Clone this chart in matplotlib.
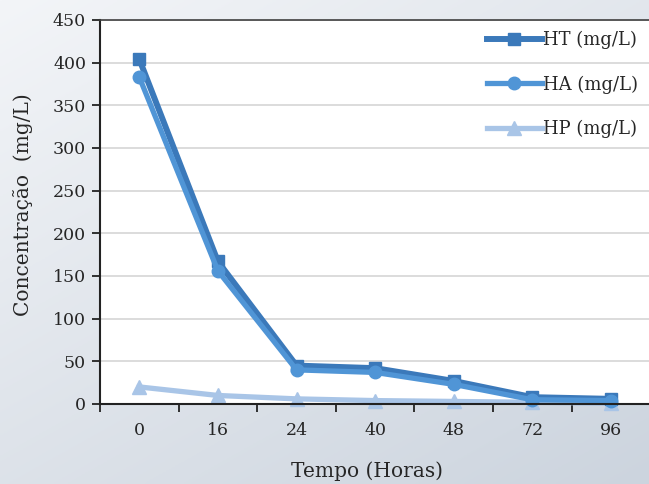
import numpy as np
import matplotlib
matplotlib.use("Agg")
import matplotlib.pyplot as plt

categories = ["0", "16", "24", "40", "48", "72", "96"]
ht = [404, 167, 45, 42, 27, 8, 6]
ha = [383, 156, 40, 37, 23, 5, 4]
hp = [20, 10, 6, 4, 3, 2, 1]
yticks = [0, 50, 100, 150, 200, 250, 300, 350, 400, 450]

plt.rcParams['font.family'] = ['DejaVu Serif']
FS = 12.5
LFS = 14.5

fig = plt.figure(figsize=(6.49, 4.84), dpi=100)

# background gradient
bg = fig.add_axes([0, 0, 1, 1], zorder=-10)
yy, xx = np.mgrid[0:1:200j, 0:1:200j]
t = np.clip((xx * 0.6 + yy * 0.8) / 1.4, 0, 1)
c0 = np.array([0xf3, 0xf5, 0xf8]) / 255
c1 = np.array([0xcc, 0xd4, 0xde]) / 255
img = c0[None, None, :] * (1 - t[..., None]) + c1[None, None, :] * t[..., None]
bg.imshow(img, aspect='auto', extent=[0, 1, 0, 1], origin='upper')
bg.axis('off')

ax = fig.add_axes([100 / 649, 1 - 404 / 484, 1 - 100 / 649 + 0.002, (404 - 20) / 484])
ax.set_facecolor('white')
x = np.arange(len(categories))

ax.plot(x, hp, color='#a9c5e7', lw=3.8, marker='^', ms=9.5, label='HP (mg/L)', zorder=3, clip_on=False)
ax.plot(x, ht, color='#3b79ba', lw=4.3, marker='s', ms=8.5, label='HT (mg/L)', zorder=4, clip_on=False)
ax.plot(x, ha, color='#5095d6', lw=3.8, marker='o', ms=9, label='HA (mg/L)', zorder=5, clip_on=False)

ax.set_xlim(-0.5, len(categories) - 0.5)
ax.set_ylim(0, 450)
ax.set_yticks(yticks)
ax.set_yticklabels([str(v) for v in yticks], fontsize=FS, color='#262626')
ax.set_xticks(x)
ax.set_xticklabels(categories, fontsize=FS, color='#262626')
ax.set_xticks(np.arange(-0.5, len(categories) + 0.5, 1), minor=True)
ax.tick_params(axis='x', which='major', length=0, pad=13)
ax.tick_params(axis='x', which='minor', length=6, width=1.3, direction='out', color='#222222')
ax.tick_params(axis='y', length=6, width=1.3, direction='out', color='#222222', pad=4)

ax.grid(axis='y', color='#d9d9d9', lw=1.3)
ax.set_axisbelow(True)
for s in ['left', 'bottom']:
    ax.spines[s].set_color('#222222')
    ax.spines[s].set_linewidth(1.5)
ax.spines['top'].set_color('#404040')
ax.spines['top'].set_linewidth(1.2)
ax.spines['right'].set_visible(False)
ax.spines['bottom'].set_zorder(6)

ax.set_xlabel('Tempo (Horas)', fontsize=LFS, color='#262626', labelpad=16)
ax.xaxis.label.set_x((366 - 100) / 549)
ax.set_ylabel('Concentração  (mg/L)', fontsize=LFS, color='#262626', labelpad=14)
ax.yaxis.label.set_y((404 - 205) / 384)

h, l = ax.get_legend_handles_labels()
order = [1, 2, 0]
leg = ax.legend([h[i] for i in order], [l[i] for i in order], loc='upper right',
                frameon=False, fontsize=13, handlelength=3.0, handletextpad=0.1,
                labelspacing=1.45, borderaxespad=0.2, bbox_to_anchor=(0.998, 1.0))
for txt in leg.get_texts():
    txt.set_color('#262626')

fig.savefig('out.png', dpi=100)
